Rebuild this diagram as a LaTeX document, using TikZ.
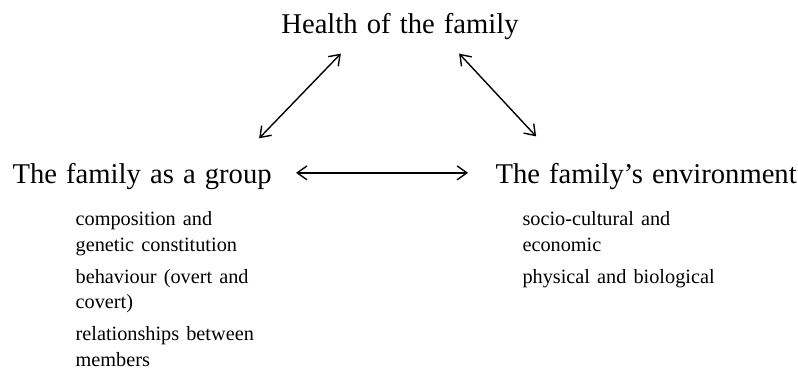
\documentclass[tikz,border=0pt]{standalone}
\usepackage{fontspec}
\setmainfont{Liberation Serif}
\usetikzlibrary{arrows.meta, positioning}

\newcommand{\lblfont}{\fontsize{10.3}{12}\selectfont\spaceskip=0.32em\relax}
\newcommand{\itemfont}{\fontsize{7.3}{9.2}\selectfont\spaceskip=0.35em\relax}

\begin{document}
\begin{tikzpicture}[x=0.36pt, y=-0.36pt,
  lbl/.style={inner sep=0pt, font=\lblfont},
  item/.style={inner sep=0pt, font=\itemfont, align=left, anchor=north west},
  arr/.style={{Straight Barb[length=3.5pt,width=5pt]}-{Straight Barb[length=3.5pt,width=5pt]},
              line width=0.5pt}
]
  \useasboundingbox (0,0) rectangle (798,372);

  % Three headings
  \node[lbl, anchor=base]      (health) at (400,33)  {Health of the family};
  \node[lbl, anchor=base west] (group)  at (12,184)  {The family as a group};
  \node[lbl, anchor=base west] (env)    at (495,184) {The family's environment};

  % Lists under the two lower headings
  \node[item, below right=9.7pt and 22.7pt of group.base west] (grouplist)
    {composition and\\genetic constitution\\[2.3pt]behaviour (overt and\\covert)\\[2.3pt]relationships between\\members};
  \node[item, below right=9.7pt and 9.7pt of env.base west] (envlist)
    {socio-cultural and\\economic\\[2.3pt]physical and biological};

  % Arrows
  \draw[arr] ([xshift=21.6pt,yshift=-5pt]health.south west) -- ([xshift=-4.7pt,yshift=9pt]group.north east);
  \draw[arr] ([xshift=-21.6pt,yshift=-5pt]health.south east) -- ([xshift=14.8pt,yshift=9.7pt]env.north west);
  \draw[arr, shorten <=8.6pt, shorten >=9.7pt] ([yshift=1.5pt]group.east) -- ([yshift=1.5pt]env.west);
\end{tikzpicture}
\end{document}
